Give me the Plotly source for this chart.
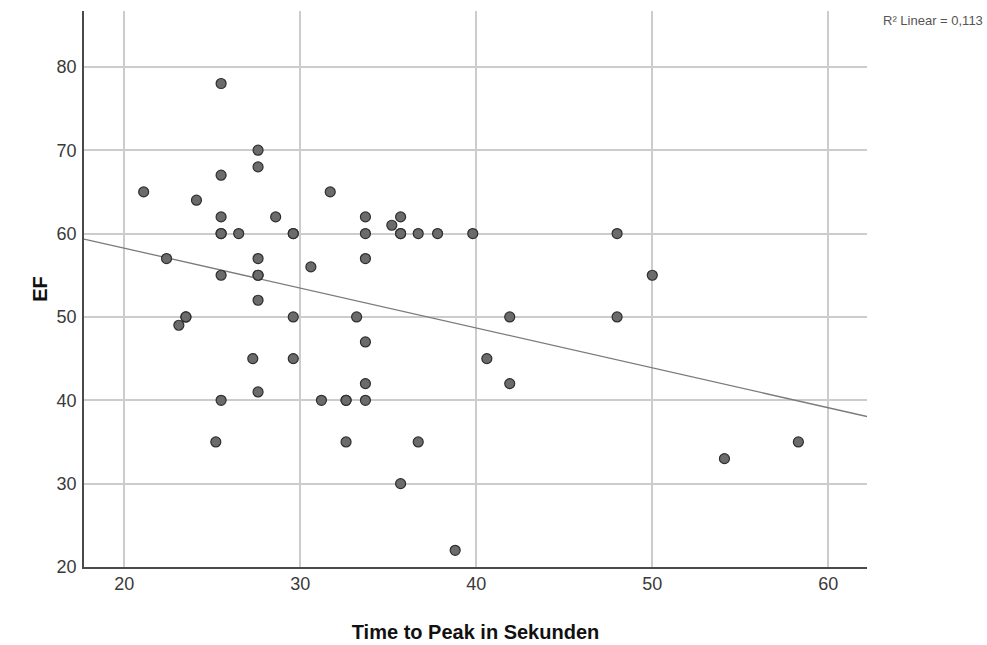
import numpy as np
import plotly.graph_objects as go

# Time to peak (seconds) and ejection fraction (%) per patient
time_to_peak = [
    25.5, 27.6, 27.6, 25.5, 21.1, 24.1, 31.7,
    25.5, 28.6, 33.7, 35.7, 35.2,
    25.5, 25.5, 26.5, 29.6, 29.6, 33.7, 35.7, 35.7, 36.7, 37.8, 39.8, 48.0,
    50.0, 22.4, 27.6, 33.7, 30.6, 25.5, 27.6, 27.6, 27.6,
    23.5, 23.5, 23.1, 29.6, 33.2, 41.9, 48.0,
    33.7, 27.3, 29.6, 40.6, 33.7, 41.9, 27.6,
    25.5, 31.2, 32.6, 32.6, 33.7,
    25.2, 32.6, 36.7, 58.3, 54.1, 35.7, 38.8,
]
ef = [
    78, 70, 68, 67, 65, 64, 65,
    62, 62, 62, 62, 61,
    60, 60, 60, 60, 60, 60, 60, 60, 60, 60, 60, 60,
    55, 57, 57, 57, 56, 55, 55, 55, 52,
    50, 50, 49, 50, 50, 50, 50,
    47, 45, 45, 45, 42, 42, 41,
    40, 40, 40, 40, 40,
    35, 35, 35, 35, 33, 30, 22,
]

x_range = [17.71, 62.2]
y_range = [20, 86.7]
x_ticks = [20, 30, 40, 50, 60]
y_ticks = [20, 30, 40, 50, 60, 70, 80]

# Least-squares fit line across the full x range
xa = np.array(time_to_peak, dtype=float)
ya = np.array(ef, dtype=float)
slope, intercept = np.polyfit(xa, ya, 1)
fit_x = np.array(x_range)
fit_y = intercept + slope * fit_x

fig = go.Figure()
fig.add_trace(go.Scatter(
    x=fit_x, y=fit_y, mode="lines",
    line=dict(color="#7a7a7a", width=1.3),
    hoverinfo="skip", showlegend=False,
))
fig.add_trace(go.Scatter(
    x=time_to_peak, y=ef, mode="markers",
    marker=dict(size=10, color="#6b6b6b", line=dict(color="#2e2e2e", width=1.2)),
    showlegend=False,
))

tick_font = dict(family="Liberation Sans, Arial", size=18, color="#3a3a3a")
title_font = dict(family="Liberation Sans, Arial", size=20, color="#111111")

fig.update_layout(
    width=987, height=645,
    margin=dict(l=84, r=120, t=11, b=78),
    paper_bgcolor="white", plot_bgcolor="white",
    xaxis=dict(
        range=x_range, tickvals=x_ticks, ticktext=[str(v) for v in x_ticks],
        showgrid=True, gridcolor="#cccccc", gridwidth=1.5,
        zeroline=False, showline=True, linecolor="#4a4a4a", linewidth=1.5,
        ticks="", tickfont=tick_font, automargin=False,
        title=dict(text="<b>Time to Peak in Sekunden</b>", font=title_font, standoff=32),
    ),
    yaxis=dict(
        range=y_range, tickvals=y_ticks, ticktext=[str(v) for v in y_ticks],
        showgrid=True, gridcolor="#cccccc", gridwidth=1.5,
        zeroline=False, showline=True, linecolor="#4a4a4a", linewidth=1.5,
        ticks="", tickfont=tick_font, ticklabelstandoff=2, automargin=False,
        title=dict(text="<b>EF</b>", font=title_font, standoff=4),
    ),
    annotations=[dict(
        text="R² Linear = 0,113",
        x=1.0 + 118 / 783, y=1.0 - 9 / 556, xref="paper", yref="paper",
        xanchor="right", yanchor="middle", showarrow=False,
        font=dict(family="Liberation Sans, Arial", size=13, color="#555555"),
    )],
)

fig.write_html("out.html")
